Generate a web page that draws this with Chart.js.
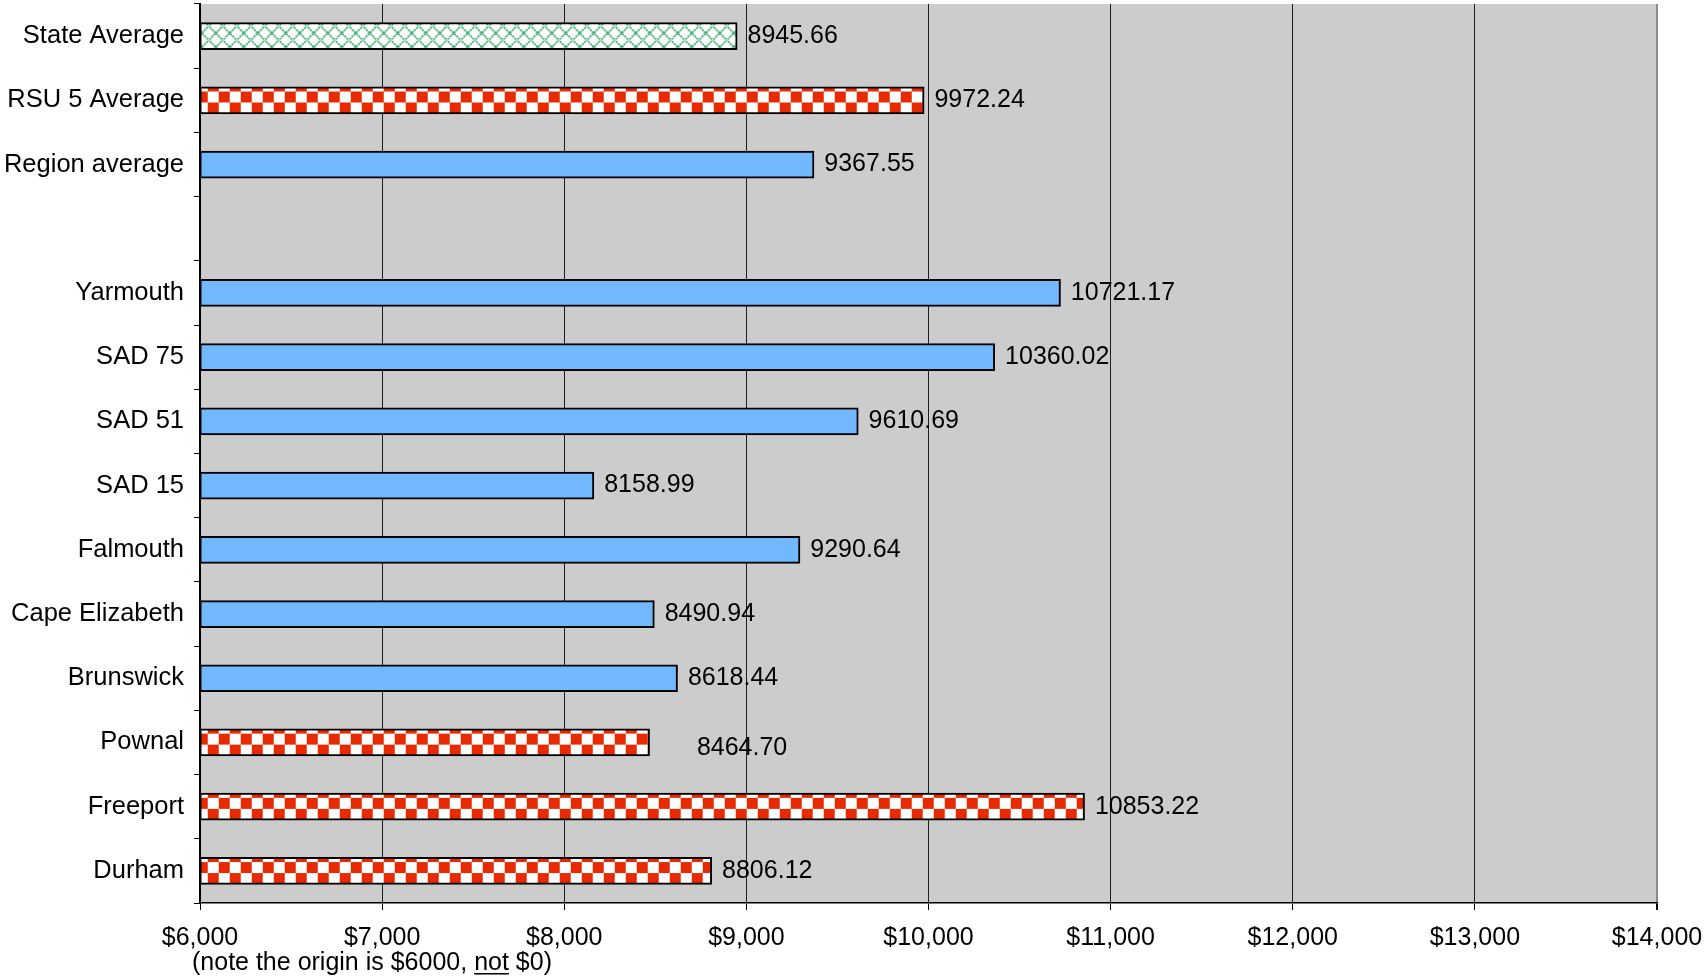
<!DOCTYPE html>
<html>
<head>
<meta charset="utf-8">
<title>Per-pupil cost comparison</title>
<script src="https://cdn.jsdelivr.net/npm/chart.js@4/dist/chart.umd.min.js"></script>
<style>
  html, body { margin: 0; padding: 0; background: #ffffff; }
  #wrap { width: 1705px; height: 980px; position: relative; }
</style>
</head>
<body>
<div id="wrap"><canvas id="chart"></canvas></div>
<script>
// Districts, top to bottom; the empty entry leaves a gap row between the averages and the districts.
const categories = [
  'State Average', 'RSU 5 Average', 'Region average', '',
  'Yarmouth', 'SAD 75', 'SAD 51', 'SAD 15', 'Falmouth',
  'Cape Elizabeth', 'Brunswick', 'Pownal', 'Freeport', 'Durham'
];
// Cost per pupil (dollars)
const costs = [
  8945.66, 9972.24, 9367.55, null,
  10721.17, 10360.02, 9610.69, 8158.99, 9290.64,
  8490.94, 8618.44, 8464.70, 10853.22, 8806.12
];
// Fill group for each bar: state, rsu (member towns), other
const groups = [
  'state', 'rsu', 'other', null,
  'other', 'other', 'other', 'other', 'other',
  'other', 'other', 'rsu', 'rsu', 'rsu'
];
const xTicks = [6000, 7000, 8000, 9000, 10000, 11000, 12000, 13000, 14000];

const FONT = "'Liberation Sans', Arial, Helvetica, sans-serif";
const BAR_PCT = 0.4;

// Pattern tiles
function checkerTile() {
  const c = document.createElement('canvas');
  c.width = 22; c.height = 22;
  const g = c.getContext('2d');
  g.fillStyle = '#ffffff'; g.fillRect(0, 0, 22, 22);
  g.fillStyle = '#e82a02';
  g.fillRect(11, 0, 11, 11);
  g.fillRect(0, 11, 11, 11);
  return c;
}
function latticeTile() {
  const s = 14;
  const c = document.createElement('canvas');
  c.width = s; c.height = s;
  const g = c.getContext('2d');
  g.fillStyle = '#ffffff'; g.fillRect(0, 0, s, s);
  g.strokeStyle = '#33a870';
  g.lineWidth = 1.7;
  g.setLineDash([2.2, 0.8]);
  g.beginPath();
  g.moveTo(-1, -1); g.lineTo(s + 1, s + 1);
  g.moveTo(s + 1, -1); g.lineTo(-1, s + 1);
  g.stroke();
  return c;
}
const tiles = { rsu: checkerTile(), state: latticeTile() };

function barFill(ctx) {
  const group = groups[ctx.dataIndex];
  if (group === 'other' || !group) return '#72b8ff';
  const chart = ctx.chart;
  const ys = chart.scales.y;
  const xs = chart.scales.x;
  if (!ys || !xs) return '#ffffff';
  const center = ys.getPixelForValue(ctx.dataIndex);
  const rowH = (ys.bottom - ys.top) / categories.length;
  const top = center - rowH * BAR_PCT / 2;
  const left = xs.left;
  const pat = chart.ctx.createPattern(tiles[group], 'repeat');
  if (group === 'rsu') {
    pat.setTransform(new DOMMatrix([1, 0, 0, 1, left - 14.3, top + 4]));
  } else {
    pat.setTransform(new DOMMatrix([1, 0, 0, 1, left + 8.7, center - 10]));
  }
  return pat;
}

// Grey plot background
const plotBackground = {
  id: 'plotBackground',
  beforeDraw(chart) {
    const a = chart.chartArea, g = chart.ctx;
    g.save();
    g.fillStyle = '#cccccc';
    g.fillRect(a.left, a.top, a.right - a.left, a.bottom - a.top);
    g.restore();
  }
};

// Value labels at the bar ends
const labelNudge = { 11: [37, 6] };
const valueLabels = {
  id: 'valueLabels',
  afterDatasetsDraw(chart) {
    const g = chart.ctx;
    const meta = chart.getDatasetMeta(0);
    g.save();
    g.font = '25px ' + FONT;
    g.fillStyle = '#000000';
    g.textAlign = 'left';
    g.textBaseline = 'middle';
    meta.data.forEach((el, i) => {
      const v = costs[i];
      if (v === null || v === undefined) return;
      const n = labelNudge[i] || [0, 0];
      g.fillText(v.toFixed(2), el.x + 11 + n[0], el.y + n[1]);
    });
    g.restore();
  }
};

// Note under the x axis, with "not" underlined
const axisNote = {
  id: 'axisNote',
  afterDraw(chart) {
    const g = chart.ctx;
    const y = 963;
    const x0 = 192;
    const before = '(note the origin is $6000, ';
    const word = 'not';
    const after = ' $0)';
    g.save();
    g.font = '25px ' + FONT;
    g.fillStyle = '#000000';
    g.textAlign = 'left';
    g.textBaseline = 'middle';
    g.fillText(before, x0, y);
    const w1 = g.measureText(before).width;
    g.fillText(word, x0 + w1, y);
    const w2 = g.measureText(word).width;
    g.fillText(after, x0 + w1 + w2, y);
    g.fillRect(x0 + w1, y + 10, w2, 1.5);
    g.restore();
  }
};

function noScalePadding(scale) {
  scale.paddingTop = 0;
  scale.paddingBottom = 0;
  scale.paddingLeft = 0;
  scale.paddingRight = 0;
}

new Chart(document.getElementById('chart'), {
  type: 'bar',
  data: {
    labels: categories,
    datasets: [{
      data: costs,
      backgroundColor: barFill,
      borderColor: '#000000',
      borderWidth: 2,
      borderSkipped: false,
      inflateAmount: 1,
      categoryPercentage: 1,
      barPercentage: BAR_PCT
    }]
  },
  options: {
    indexAxis: 'y',
    responsive: true,
    maintainAspectRatio: false,
    animation: false,
    base: 6000,
    layout: { padding: { top: 4, right: 48, bottom: 0, left: 0 } },
    plugins: {
      legend: { display: false },
      tooltip: { enabled: false },
      title: { display: false }
    },
    scales: {
      x: {
        type: 'linear',
        min: 6000,
        max: 14000,
        afterBuildTicks(scale) { scale.ticks = xTicks.map(v => ({ value: v })); },
        afterFit(scale) { scale.height = 77; noScalePadding(scale); },
        ticks: {
          color: '#000000',
          font: { family: FONT, size: 25 },
          padding: 13,
          maxRotation: 0,
          autoSkip: false,
          callback: v => '$' + Number(v).toLocaleString('en-US')
        },
        grid: {
          color: ctx => (ctx.tick && ctx.tick.value === 14000) ? '#8c8c8c' : '#1e1e1e',
          lineWidth: ctx => (ctx.tick && ctx.tick.value === 14000) ? 2 : 1,
          drawTicks: true,
          tickLength: 7,
          tickColor: '#000000'
        },
        border: { display: true, color: '#000000', width: 1.5 }
      },
      y: {
        type: 'category',
        afterFit(scale) { scale.width = 200; noScalePadding(scale); },
        ticks: {
          color: '#000000',
          font: { family: FONT, size: 25.5 },
          padding: 10,
          autoSkip: false
        },
        grid: {
          offset: true,
          drawOnChartArea: false,
          drawTicks: true,
          tickLength: 6,
          color: '#000000',
          tickColor: '#000000'
        },
        border: { display: true, color: '#000000', width: 2 }
      }
    }
  },
  plugins: [plotBackground, valueLabels, axisNote]
});
</script>
</body>
</html>
